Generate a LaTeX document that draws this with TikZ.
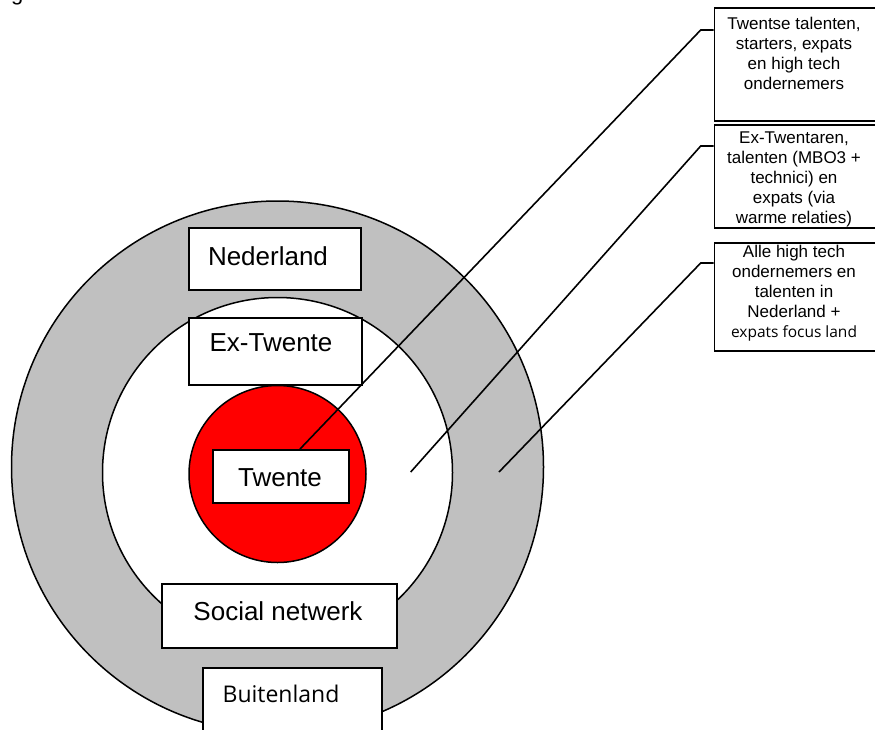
\documentclass[tikz,border=0pt]{standalone}
\usepackage{fontspec}
\setmainfont{Liberation Sans}
\newfontfamily\lucfont{Open Sans}
\definecolor{ringgray}{HTML}{C0C0C0}
\definecolor{redfill}{HTML}{FF0000}
\begin{document}
\begin{tikzpicture}[x=1pt,y=-1pt,
  ring/.style={circle, draw, line width=1.5pt, inner sep=0pt},
  box/.style={draw, line width=1.8pt, fill=white, inner sep=0pt, anchor=north west},
  big/.style={inner sep=0pt, font=\fontsize{26}{30}\selectfont},
  luc/.style={inner sep=0pt, font=\lucfont\fontsize{23}{28}\selectfont},
  small/.style={inner sep=0pt, anchor=north, align=center, font=\fontsize{17}{20}\selectfont},
  conn/.style={line width=1.6pt}]
\useasboundingbox (0,0) rectangle (875,729);
% fragment of clipped text at top
\node[anchor=base west, inner sep=0pt, font=\fontsize{22}{26}\selectfont] (frag) at (11,0.5) {g};
% circles
\node[ring, fill=ringgray, minimum size=532pt] (outer) at (277.5,467) {};
\node[ring, fill=white, minimum size=350pt] (inner) at (277.5,472.5) {};
\node[ring, fill=redfill, minimum size=177pt] (core) at (277.5,474) {};
% boxes in rings
\node[box, minimum width=172pt, minimum height=62pt] (nedbox) at (188,227) {};
\node[big] (nedtxt) at (268,256) {Nederland};
\node[box, minimum width=173pt, minimum height=67pt] (exbox) at (188,317) {};
\node[big] (extxt) at (271,343) {Ex-Twente};
\node[box, minimum width=136pt, minimum height=53pt] (twbox) at (212,449) {};
\node[big] (twtxt) at (280,478) {Twente};
\node[box, minimum width=235pt, minimum height=64pt] (socbox) at (161,583) {};
\node[big] (soctxt) at (278,611) {Social netwerk};
\node[box, minimum width=179pt, minimum height=80pt] (buibox) at (202,667) {};
\node[luc] (buitxt) at (281,694) {Buitenland};
% right side boxes
\node[box, minimum width=161pt, minimum height=113pt] (b1) at (713.5,7) {};
\node[small] (t1) at (794,16.5) {Twentse talenten,\\starters, expats\\en high tech\\ondernemers};
\node[box, minimum width=161pt, minimum height=103pt] (b2) at (713.5,124) {};
\node[small] (t2) at (794,131.5) {Ex-Twentaren,\\talenten (MBO3 +\\technici) en\\expats (via\\warme relaties)};
\node[box, minimum width=161pt, minimum height=108pt] (b3) at (713.5,242) {};
\node[small] (t3) at (794,245) {Alle high tech\\ondernemers en\\talenten in\\Nederland +\\{\lucfont\fontsize{15.5}{20}\selectfont expats focus land}};
% connectors
\coordinate (k1) at (700.7,30);
\coordinate (e1) at (300,449);
\coordinate (k2) at (700.7,146);
\coordinate (e2) at (410.7,472);
\coordinate (k3) at (700.7,263);
\coordinate (e3) at (499,472);
\draw[conn] (b1.west |- k1) -- (k1) -- (e1);
\draw[conn] (b2.west |- k2) -- (k2) -- (e2);
\draw[conn] (b3.west |- k3) -- (k3) -- (e3);
\end{tikzpicture}
\end{document}
